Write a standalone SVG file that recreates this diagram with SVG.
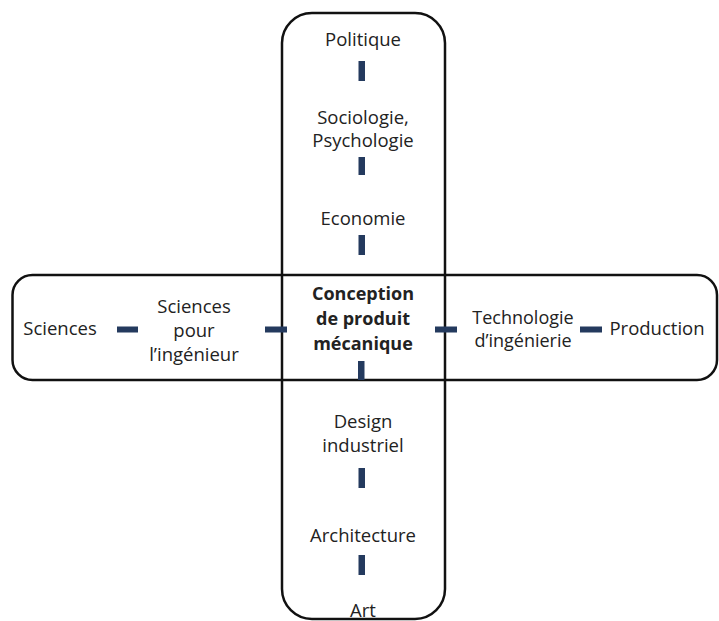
<svg xmlns="http://www.w3.org/2000/svg" width="719" height="621" viewBox="0 0 719 621">
  <style>
    .frame { fill: none; stroke: #111; stroke-width: 2.5; }
    .bar { fill: #243a5e; }
    .lbl { font-family: "Open Sans", "Noto Sans", "Liberation Sans", sans-serif; font-size: 18.5px; fill: #222; text-anchor: middle; }
    .bold { font-weight: bold; font-size: 18px; }
    .tight { font-size: 18px; }
  </style>
  <rect width="719" height="621" fill="#fff"/>
  <g id="frames">
    <rect id="vertical-frame" class="frame" x="282" y="13" width="163" height="606" rx="30"/>
    <rect id="horizontal-frame" class="frame" x="12.5" y="275" width="704.5" height="105" rx="20"/>
  </g>
  <g id="connectors">
    <rect class="bar" x="358.5" y="61" width="6.5" height="20"/>
    <rect class="bar" x="358.5" y="157" width="6.5" height="18"/>
    <rect class="bar" x="358.5" y="235" width="6.5" height="20"/>
    <rect class="bar" x="358" y="361" width="6.5" height="19"/>
    <rect class="bar" x="358.5" y="468" width="6.5" height="20"/>
    <rect class="bar" x="358.5" y="555" width="6.5" height="20"/>
    <rect class="bar" x="117" y="326.5" width="21" height="6"/>
    <rect class="bar" x="265" y="326.5" width="22" height="6"/>
    <rect class="bar" x="435" y="326.5" width="22" height="6"/>
    <rect class="bar" x="580" y="326.5" width="22" height="6"/>
  </g>
  <g id="politique"><text class="lbl" x="363" y="46">Politique</text></g>
  <g id="sociologie"><text class="lbl" x="363" y="124">Sociologie,</text><text class="lbl" x="363" y="147">Psychologie</text></g>
  <g id="economie"><text class="lbl" x="363" y="225">Economie</text></g>
  <g id="conception"><text class="lbl bold" x="363" y="300">Conception</text><text class="lbl bold" x="363" y="325">de produit</text><text class="lbl bold" x="363" y="350">mécanique</text></g>
  <g id="design"><text class="lbl" x="363" y="428">Design</text><text class="lbl" x="363" y="452">industriel</text></g>
  <g id="architecture"><text class="lbl" x="363" y="542">Architecture</text></g>
  <g id="art"><text class="lbl" x="363" y="617">Art</text></g>
  <g id="sciences"><text class="lbl" x="60" y="335">Sciences</text></g>
  <g id="sciences-ingenieur"><text class="lbl" x="194" y="313">Sciences</text><text class="lbl" x="194" y="337">pour</text><text class="lbl" x="194" y="361">l’ingénieur</text></g>
  <g id="technologie"><text class="lbl tight" x="523" y="324">Technologie</text><text class="lbl tight" x="523" y="347">d’ingénierie</text></g>
  <g id="production"><text class="lbl" x="657" y="335">Production</text></g>
</svg>
